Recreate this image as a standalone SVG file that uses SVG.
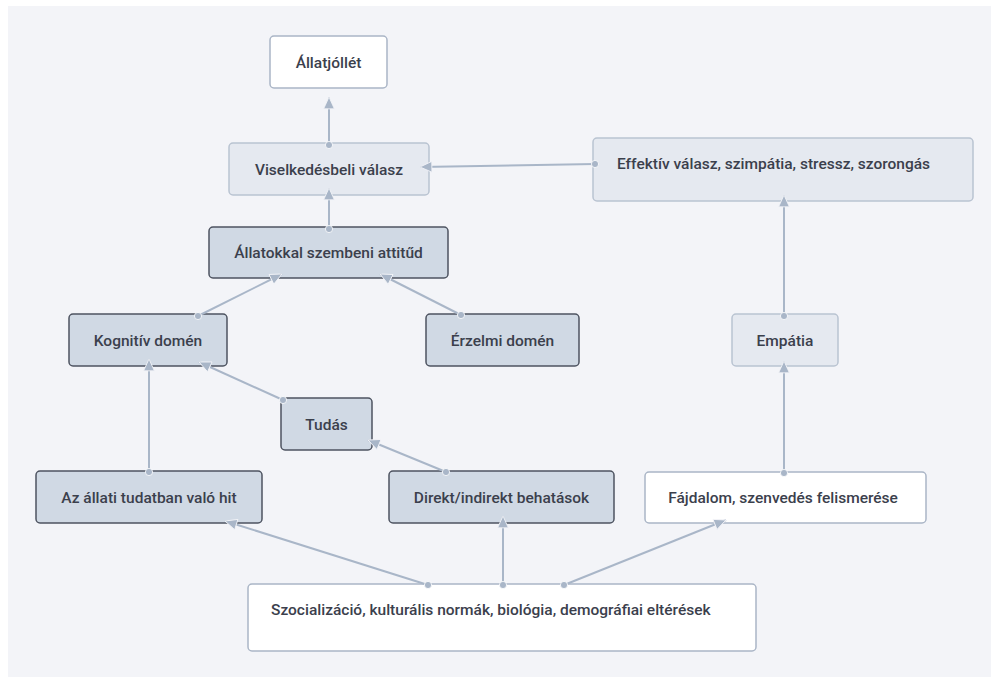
<svg xmlns="http://www.w3.org/2000/svg" width="991" height="677" viewBox="0 0 991 677">
<style>
.bg{fill:#f3f4f8}
.n rect{stroke-width:1.5}
.w rect{fill:#ffffff;stroke:#aab5c6}
.l rect{fill:#e5e9f0;stroke:#b9c3d1}
.d rect{fill:#d0d9e4;stroke:#4d5360}
.n text{font-family:Roboto,"Liberation Sans",sans-serif;font-size:15.5px;font-weight:500;fill:#3b404c}
.c{text-anchor:middle}
#edges path{fill:none;stroke:#a9b6c8;stroke-width:2;marker-start:url(#dot);marker-end:url(#arr)}
</style>
<defs>
<marker id="arr" markerUnits="userSpaceOnUse" markerWidth="14" markerHeight="14" viewBox="-1 -1 13 12" refX="11" refY="5" orient="auto">
<path d="M0,0 L11,5 L0,10 z" fill="#a9b6c8" stroke="#f3f4f8" stroke-width="0.8"/>
</marker>
<marker id="dot" markerUnits="userSpaceOnUse" markerWidth="10" markerHeight="10" viewBox="-5 -5 10 10" refX="0" refY="0">
<circle r="3.6" fill="#a9b6c8" stroke="#ffffff" stroke-width="0.8"/>
</marker>
</defs>
<rect class="bg" x="8" y="6" width="983" height="671"/>
<g id="n1" class="n w"><rect x="270" y="36" width="117" height="52" rx="4"/><text class="c" x="328.5" y="67.5">Állatjóllét</text></g>
<g id="n2" class="n l"><rect x="229" y="143" width="200" height="52" rx="4"/><text class="c" x="329" y="175">Viselkedésbeli válasz</text></g>
<g id="n3" class="n d"><rect x="209" y="227" width="239" height="51" rx="4"/><text class="c" x="328.5" y="258">Állatokkal szembeni attitűd</text></g>
<g id="n4" class="n l"><rect x="593" y="138" width="380" height="63" rx="4"/><text x="617" y="169">Effektív válasz, szimpátia, stressz, szorongás</text></g>
<g id="n5" class="n l"><rect x="732" y="314" width="106" height="52" rx="4"/><text class="c" x="785" y="346">Empátia</text></g>
<g id="n6" class="n d"><rect x="69" y="314" width="158" height="52" rx="4"/><text class="c" x="148" y="345.5">Kognitív domén</text></g>
<g id="n7" class="n d"><rect x="426" y="314" width="153" height="52" rx="4"/><text class="c" x="502.5" y="345.5">Érzelmi domén</text></g>
<g id="n8" class="n d"><rect x="281" y="398" width="91" height="52" rx="4"/><text class="c" x="326.5" y="429.5">Tudás</text></g>
<g id="n9" class="n d"><rect x="36" y="471" width="226" height="52" rx="4"/><text class="c" x="149" y="503">Az állati tudatban való hit</text></g>
<g id="n10" class="n d"><rect x="389" y="471" width="225" height="52" rx="4"/><text class="c" x="501.5" y="503">Direkt/indirekt behatások</text></g>
<g id="n11" class="n w"><rect x="645" y="472" width="281" height="51" rx="4"/><text class="c" x="783" y="503">Fájdalom, szenvedés felismerése</text></g>
<g id="n12" class="n w"><rect x="248" y="584" width="508" height="67" rx="4"/><text x="271" y="615">Szocializáció, kulturális normák, biológia, demográfiai eltérések</text></g>
<g id="edges">
<path d="M329,145 L329,97"/>
<path d="M329,229 L329,188"/>
<path d="M595,164 L420,167"/>
<path d="M198,316 L282,274"/>
<path d="M461,315 L380,274"/>
<path d="M149,472 L149,359"/>
<path d="M283,400 L199,362"/>
<path d="M446,472 L368,440"/>
<path d="M428,585 L225,521"/>
<path d="M503,585 L503,516"/>
<path d="M564,585 L726,520"/>
<path d="M784,473 L784,361"/>
<path d="M784,316 L784,195"/>
</g>
</svg>
